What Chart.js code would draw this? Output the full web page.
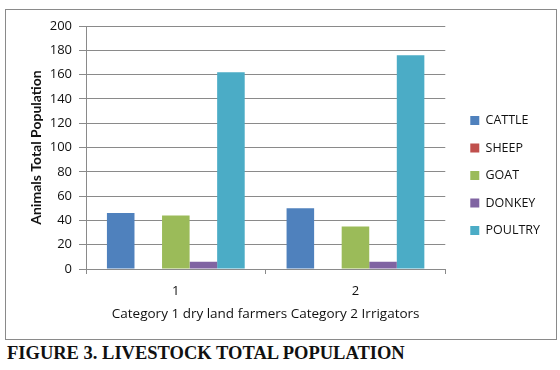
<!DOCTYPE html>
<html>
<head>
<meta charset="utf-8">
<script src="https://cdn.jsdelivr.net/npm/chart.js@4.4.1/dist/chart.umd.min.js"></script>
<style>
  html, body { margin: 0; padding: 0; background: #ffffff; }
  body { width: 560px; height: 370px; position: relative; overflow: hidden; }
  #frame { position: absolute; left: 5px; top: 9px; width: 552px; height: 331px; box-sizing: border-box; border: 1px solid #8a8a8a; }
  #wrap { position: absolute; left: 0; top: 0; width: 550px; height: 329px; }
  #caption { position: absolute; left: 7px; top: 343px; font-family: "Liberation Serif", "Times New Roman", serif; font-weight: bold; font-size: 18.5px; line-height: 20px; color: #111; white-space: nowrap; }
</style>
</head>
<body>
<div id="frame"><div id="wrap"><canvas id="c"></canvas></div></div>
<div id="caption">FIGURE 3. LIVESTOCK TOTAL POPULATION</div>
<script>
const categories = ['1', '2'];
const seriesNames = ['CATTLE', 'SHEEP', 'GOAT', 'DONKEY', 'POULTRY'];
const cattle = [46, 50];
const sheep = [0, 0];
const goat = [44, 35];
const donkey = [6, 6];
const poultry = [162, 176];
const yTicks = [0, 20, 40, 60, 80, 100, 120, 140, 160, 180, 200];
const colors = ['#4F81BD', '#C0504D', '#9BBB59', '#8064A2', '#4BACC6'];
const xTitle = 'Category 1 dry land farmers Category 2 Irrigators';
const yTitle = 'Animals Total Population';

const values = [cattle, sheep, goat, donkey, poultry];
const FONT = '"Open Sans", "Liberation Sans", sans-serif';
const GRID = '#8a8a8a';

const legendShift = {
  id: 'legendShift',
  afterLayout(chart) {
    const lg = chart.legend;
    if (lg) { lg.left += 10; lg.right += 10; lg.top -= 7; lg.bottom -= 7; }
  }
};

new Chart(document.getElementById('c'), {
  type: 'bar',
  data: {
    labels: categories,
    datasets: seriesNames.map((n, i) => ({
      label: n,
      data: values[i],
      backgroundColor: colors[i],
      borderWidth: 0,
      categoryPercentage: 0.767,
      barPercentage: 1.0
    }))
  },
  options: {
    responsive: true,
    maintainAspectRatio: false,
    animation: false,
    devicePixelRatio: 1,
    layout: { padding: { left: 0, right: 16, top: 16, bottom: 0 } },
    plugins: {
      tooltip: { enabled: false },
      legend: {
        position: 'right',
        align: 'center',
        labels: {
          boxWidth: 9,
          boxHeight: 9,
          padding: 15,
          color: '#111',
          font: { family: FONT, size: 12.5 }
        }
      }
    },
    scales: {
      x: {
        offset: true,
        grid: { offset: true, drawOnChartArea: false, drawTicks: true, tickLength: 5, color: GRID, lineWidth: 1 },
        border: { display: true, color: GRID, width: 1 },
        ticks: { color: '#111', padding: 9, font: { family: FONT, size: 13 } },
        title: { display: true, text: xTitle, color: '#111', font: { family: FONT, size: 13.5 }, padding: { top: 0, bottom: 17 } },
        afterFit(scale) { scale.height = 70; }
      },
      y: {
        min: 0,
        max: 200,
        afterBuildTicks(scale) { scale.ticks = yTicks.map(v => ({ value: v })); },
        grid: { color: GRID, lineWidth: 1, drawTicks: true, tickLength: 7 },
        border: { display: true, color: GRID, width: 1 },
        ticks: { color: '#111', padding: 7, font: { family: FONT, size: 13 } },
        title: { display: true, text: yTitle, color: '#111', font: { family: 'Lato, "Open Sans", sans-serif', size: 14, weight: 'bold' }, padding: { top: 22, bottom: 0 } },
        afterFit(scale) { scale.width = 80; }
      }
    }
  },
  plugins: [legendShift]
});
</script>
</body>
</html>
